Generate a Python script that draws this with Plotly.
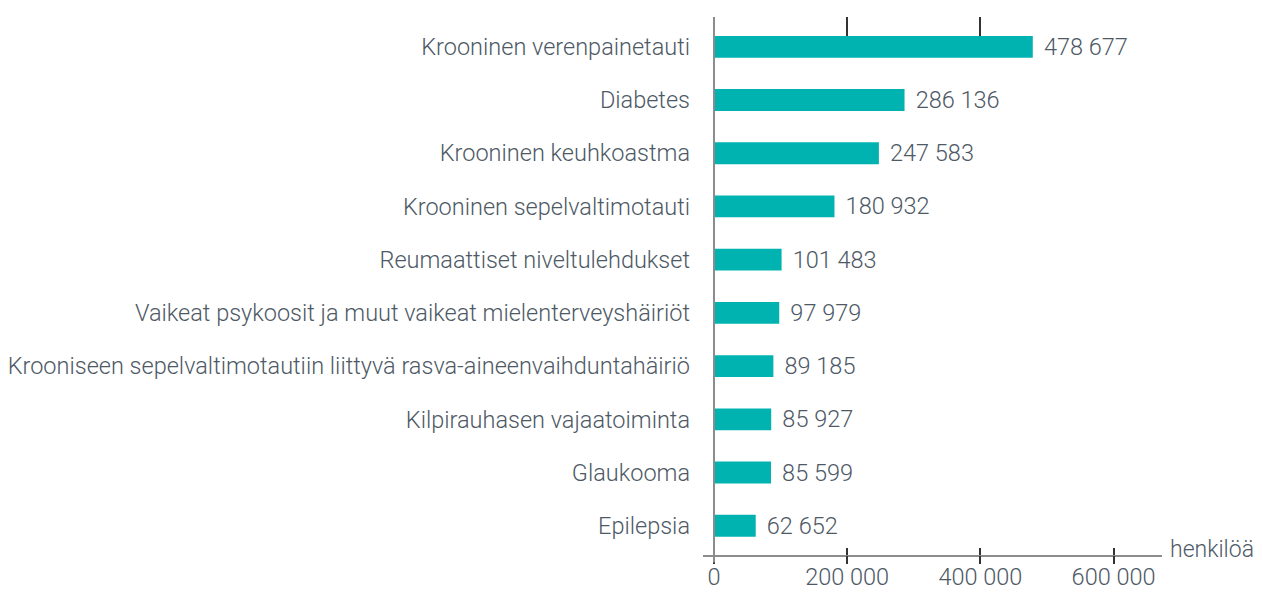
import plotly.graph_objects as go

categories = [
    "Krooninen verenpainetauti",
    "Diabetes",
    "Krooninen keuhkoastma",
    "Krooninen sepelvaltimotauti",
    "Reumaattiset niveltulehdukset",
    "Vaikeat psykoosit ja muut vaikeat mielenterveyshäiriöt",
    "Krooniseen sepelvaltimotautiin liittyvä rasva-aineenvaihduntahäiriö",
    "Kilpirauhasen vajaatoiminta",
    "Glaukooma",
    "Epilepsia",
]
values = [478677, 286136, 247583, 180932, 101483, 97979, 89185, 85927, 85599, 62652]
tick_values = [0, 200000, 400000, 600000]
top_tick_values = [200000, 400000]
unit_label = "henkilöä"

TEXT = "#4d5965"
BAR = "#00b3b0"
AXIS = "#8c8c8c"
TICK = "#333333"
FONT = "Roboto"
FS = 23.5
W = 300

fig = go.Figure()
fig.add_trace(go.Bar(
    x=values, y=categories, orientation="h",
    marker=dict(color=BAR, line=dict(width=0)),
    width=0.41,
    texttemplate="\u00a0\u200a%{x:,}",
    textposition="outside",
    constraintext="none",
    cliponaxis=False,
    textfont=dict(family=FONT, size=FS, color=TEXT, weight=W),
    hoverinfo="skip",
))
# helper traces to draw the extra tick axes
for ax in ["x2", "x3"]:
    fig.add_trace(go.Scatter(x=values, y=categories, mode="none", xaxis=ax,
                             hoverinfo="skip", showlegend=False))

fig.update_layout(
    width=1247, height=580,
    margin=dict(l=695, r=93, t=9, b=33, autoexpand=False),
    paper_bgcolor="white", plot_bgcolor="white",
    showlegend=False,
    separators=". ",
    font=dict(family=FONT, size=FS, color=TEXT, weight=W),
    xaxis=dict(
        range=[-16500, 672700], tickvals=tick_values, tickformat=",",
        showgrid=False, zeroline=False, automargin=False,
        showline=True, linecolor=AXIS, linewidth=2,
        ticks="inside", ticklen=7, tickcolor=TICK, tickwidth=1.5,
        ticklabelstandoff=0,
        tickfont=dict(family=FONT, size=FS, color=TEXT, weight=W),
    ),
    xaxis2=dict(
        overlaying="x", matches="x", anchor="y", side="bottom",
        tickvals=tick_values, showticklabels=False, showgrid=False,
        zeroline=False, showline=False, automargin=False,
        ticks="outside", ticklen=8, tickcolor=TICK, tickwidth=1.5,
    ),
    xaxis3=dict(
        overlaying="x", matches="x", anchor="y", side="top",
        tickvals=top_tick_values, showticklabels=False, showgrid=False,
        zeroline=False, showline=False, automargin=False,
        ticks="inside", ticklen=19, tickcolor=TICK, tickwidth=1.5,
    ),
    yaxis=dict(
        type="category", categoryorder="array", categoryarray=categories,
        range=[9.55, -0.56], showgrid=False, zeroline=False, showline=False,
        automargin=False,
        ticks="", ticklabelstandoff=12,
        tickfont=dict(family=FONT, size=FS, color=TEXT, weight=W),
    ),
    shapes=[dict(type="line", xref="x", yref="paper", x0=0, x1=0, y0=-0.014, y1=1,
                 line=dict(color=AXIS, width=2), layer="above")],
    annotations=[dict(text=unit_label, xref="paper", yref="paper", x=1, y=0,
                      xanchor="left", yanchor="middle", xshift=6, yshift=6,
                      showarrow=False,
                      font=dict(family=FONT, size=23, color=TEXT, weight=W))],
)

fig.write_html("out.html")
